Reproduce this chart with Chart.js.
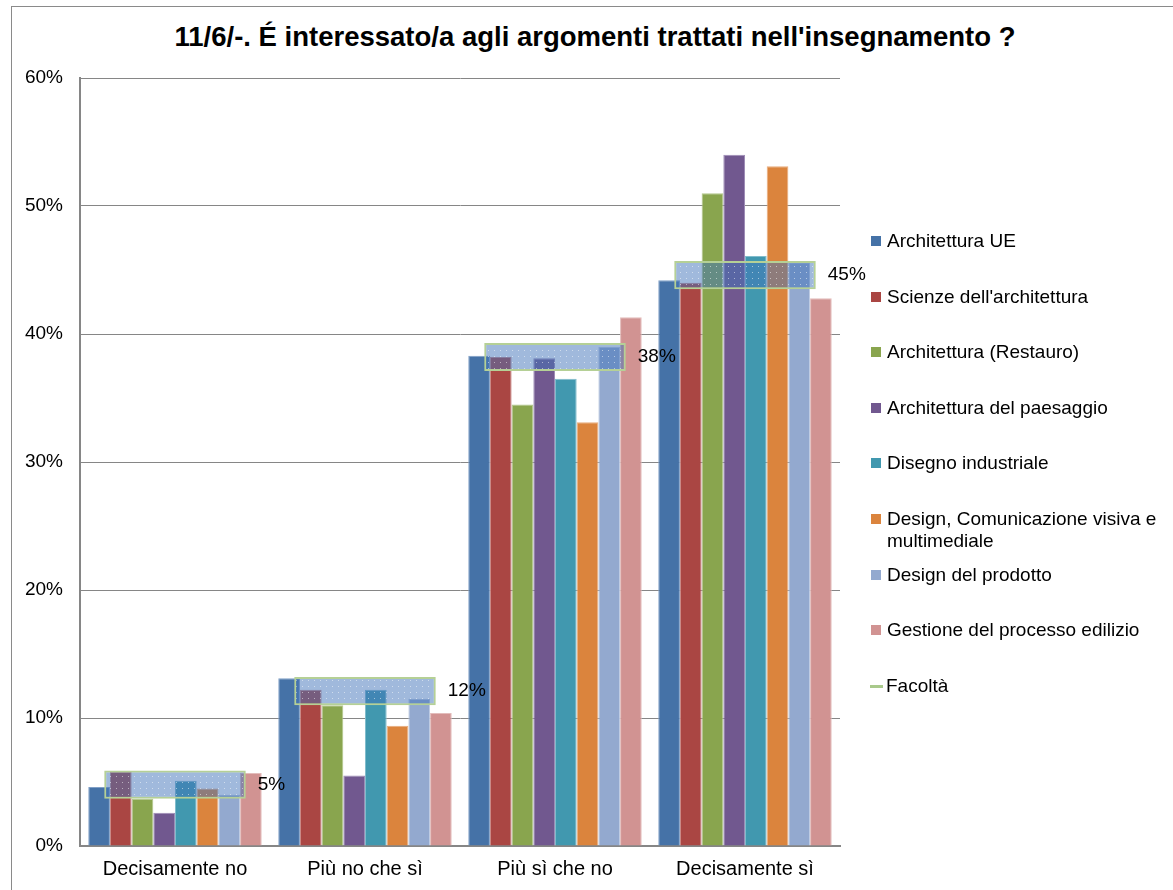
<!DOCTYPE html>
<html lang="it">
<head>
<meta charset="utf-8">
<title>11/6/-. É interessato/a agli argomenti trattati nell'insegnamento ?</title>
<script src="https://cdn.jsdelivr.net/npm/chart.js"></script>
<style>
  html, body { margin: 0; padding: 0; background: #fff; }
  body { width: 1173px; height: 890px; position: relative; overflow: hidden; font-family: "Liberation Sans", Arial, sans-serif; }
  #frame { position: absolute; left: 11px; top: 6px; width: 1200px; height: 920px; border: 1px solid #8a8a8a; box-sizing: border-box; }
  #titolo { position: absolute; left: 0; width: 1190px; top: 22px; text-align: center; font-weight: bold; font-size: 27.5px; line-height: 30px; color: #000; white-space: nowrap; }
  #grafico { position: absolute; left: 0; top: 0; }
  #legenda { position: absolute; left: 870px; top: 230px; width: 300px; }
  .voce { height: 55.6px; display: flex; align-items: flex-start; font-size: 19px; line-height: 22px; color: #000; }
  .voce .segno { flex: 0 0 auto; width: 10px; height: 10px; margin: 6px 6px 0 1px; }
  .voce .segno.linea { width: 13px; height: 3px; margin: 10px 3px 0 0; }
  .voce .testo { width: 285px; }
</style>
</head>
<body>
<div id="frame"></div>
<div id="titolo">11/6/-. É interessato/a agli argomenti trattati nell'insegnamento ?</div>
<canvas id="grafico" width="1173" height="890"></canvas>
<div id="legenda"></div>

<script>
// Categorie (risposte)
const categorie = ['Decisamente no', 'Più no che sì', 'Più sì che no', 'Decisamente sì'];

// Percentuali per corso di laurea
const architetturaUE      = [4.6, 13.1, 38.3, 44.2];
const scienzeArchitettura = [5.8, 12.2, 38.2, 44.0];
const architetturaRestauro = [3.7, 11.0, 34.5, 51.0];
const architetturaPaesaggio = [2.6, 5.5, 38.1, 54.0];
const disegnoIndustriale  = [5.1, 12.2, 36.5, 46.1];
const designComunicazione = [4.5, 9.4, 33.1, 53.1];
const designProdotto      = [4.0, 11.5, 39.0, 45.6];
const gestioneProcesso    = [5.7, 10.4, 41.3, 42.8];

// Media di facoltà
const facolta = [4.8, 12.1, 38.2, 44.6];

// Tacche asse y
const tackeY = [0, 10, 20, 30, 40, 50, 60];

const corsi = [
  { nome: 'Architettura UE', dati: architetturaUE, colore: '#4572A7', bordo: '#7f9fc6' },
  { nome: "Scienze dell'architettura", dati: scienzeArchitettura, colore: '#AA4643', bordo: '#c98684' },
  { nome: 'Architettura (Restauro)', dati: architetturaRestauro, colore: '#89A54E', bordo: '#b1c68a' },
  { nome: 'Architettura del paesaggio', dati: architetturaPaesaggio, colore: '#71588F', bordo: '#9e8cb6' },
  { nome: 'Disegno industriale', dati: disegnoIndustriale, colore: '#4198AF', bordo: '#80bccc' },
  { nome: 'Design, Comunicazione visiva e multimediale', dati: designComunicazione, colore: '#DB843D', bordo: '#e8ac7c' },
  { nome: 'Design del prodotto', dati: designProdotto, colore: '#93A9CF', bordo: '#bccae2' },
  { nome: 'Gestione del processo edilizio', dati: gestioneProcesso, colore: '#D19392', bordo: '#e3bcbb' }
];

// Riempimento puntinato della barra di facoltà
function creaTrama() {
  const c = document.createElement('canvas');
  c.width = 6; c.height = 6;
  const g = c.getContext('2d');
  g.fillStyle = 'rgba(65,115,185,0.5)';
  g.fillRect(0, 0, 6, 6);
  g.fillStyle = 'rgba(255,255,255,0.5)';
  g.fillRect(2, 2, 1, 1);
  return g.createPattern(c, 'repeat');
}

const datasets = corsi.map(c => ({
  label: c.nome,
  data: c.dati,
  backgroundColor: c.colore,
  borderColor: c.bordo,
  borderWidth: 1,
  categoryPercentage: 0.913,
  barPercentage: 1,
  order: 1
}));

// barra fluttuante non raggruppata, sovrapposta al gruppo
datasets.push({
  label: 'Facoltà',
  data: facolta.map(v => [v - 1.1, v + 1.1]),
  backgroundColor: creaTrama(),
  borderColor: '#b5d096',
  borderWidth: 2,
  borderSkipped: false,
  grouped: false,
  categoryPercentage: 0.745,
  barPercentage: 1,
  order: 0
});

// Etichette percentuali accanto alle barre di facoltà
const etichetteFacolta = {
  id: 'etichetteFacolta',
  afterDatasetsDraw(chart) {
    const meta = chart.getDatasetMeta(chart.data.datasets.length - 1);
    const ctx = chart.ctx;
    ctx.save();
    ctx.font = '19px "Liberation Sans", Arial, sans-serif';
    ctx.fillStyle = '#000';
    ctx.textBaseline = 'middle';
    ctx.textAlign = 'left';
    meta.data.forEach((bar, i) => {
      const y = chart.scales.y.getPixelForValue(facolta[i]);
      ctx.fillText(Math.round(facolta[i]) + '%', bar.x + bar.width / 2 + 12, y);
    });
    ctx.restore();
  }
};

new Chart(document.getElementById('grafico'), {
  type: 'bar',
  data: { labels: categorie, datasets: datasets },
  options: {
    responsive: false,
    animation: false,
    layout: { padding: { top: 78, right: 333, bottom: 0, left: 0 } },
    plugins: {
      legend: { display: false },
      title: { display: false },
      tooltip: { enabled: false }
    },
    scales: {
      x: {
        grid: { display: false, drawTicks: false },
        border: { color: '#868686', width: 2 },
        ticks: { color: '#000', font: { family: '"Liberation Sans", Arial, sans-serif', size: 20 }, padding: 11, maxRotation: 0 },
        afterFit: s => { s.height = 44; }
      },
      y: {
        min: 0,
        max: 60,
        afterBuildTicks: s => { s.ticks = tackeY.map(v => ({ value: v })); },
        grid: { color: '#868686', lineWidth: 1, drawTicks: false },
        border: { color: '#868686', width: 2 },
        ticks: { color: '#000', font: { family: '"Liberation Sans", Arial, sans-serif', size: 19 }, padding: 17, callback: v => v + '%' },
        afterFit: s => { s.width = 80; }
      }
    }
  },
  plugins: [etichetteFacolta]
});

// Legenda a destra
const legenda = document.getElementById('legenda');
corsi.forEach(c => {
  legenda.insertAdjacentHTML('beforeend',
    `<div class="voce"><span class="segno" style="background:${c.colore}"></span><span class="testo">${c.nome}</span></div>`);
});
legenda.insertAdjacentHTML('beforeend',
  `<div class="voce"><span class="segno linea" style="background:#a9c98b"></span><span class="testo">Facoltà</span></div>`);
</script>
</body>
</html>
